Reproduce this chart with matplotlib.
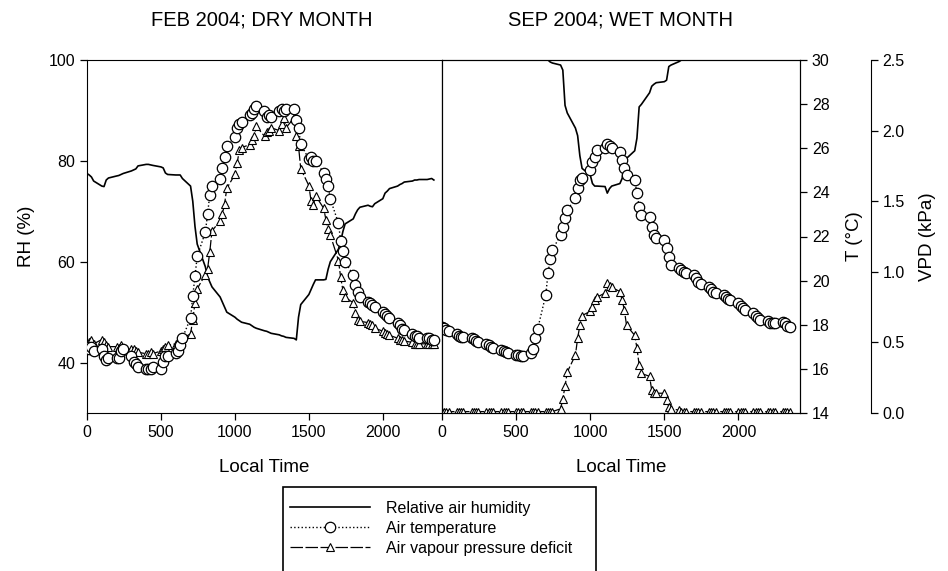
import matplotlib
matplotlib.use('Agg')
import matplotlib.pyplot as plt
from matplotlib.lines import Line2D
from matplotlib.patches import Rectangle

plt.rcParams['font.family'] = ['Liberation Sans', 'DejaVu Sans']

# local time as HHMM, every 15 min
hours = range(24)
minutes = [0, 15, 30, 45]
local_time = [h * 100 + m for h in hours for m in minutes]

# FEB 2004 (dry month)
feb_rh = [77.5, 77.2, 76.8, 76.0, 75.0, 74.9, 76.2, 76.6, 77.0, 77.1, 77.3, 77.5,
          78.0, 78.2, 78.4, 79.0, 79.3, 79.3, 79.2, 79.1, 78.8, 78.6, 77.6, 77.3,
          77.2, 77.2, 77.2, 76.5, 75.0, 72.0, 67.0, 63.5, 59.0, 57.0, 56.0, 55.0,
          53.0, 52.0, 51.0, 50.0, 49.0, 48.6, 48.3, 48.0, 47.6, 47.3, 47.0, 46.8,
          46.3, 46.2, 46.0, 45.8, 45.5, 45.3, 45.2, 45.0, 44.8, 44.5, 49.0, 51.5,
          53.5, 54.5, 55.5, 56.4, 56.4, 56.5, 58.5, 60.0, 62.5, 64.0, 66.0, 67.5,
          68.5, 69.5, 70.3, 70.8, 71.2, 71.0, 70.9, 71.5, 72.5, 73.6, 74.0, 74.5,
          75.0, 75.3, 75.5, 75.8, 76.0, 76.2, 76.2, 76.3, 76.3, 76.4, 76.5, 76.2]
feb_t = [17.0, 16.9, 17.0, 16.8, 16.9, 16.6, 16.4, 16.5, 16.5, 16.5, 16.8, 16.9,
         16.6, 16.3, 16.2, 16.1, 16.0, 16.0, 16.0, 16.1, 16.0, 16.3, 16.6, 16.6,
         16.7, 16.8, 17.1, 17.4, 18.3, 19.3, 20.2, 21.1, 22.2, 23.0, 23.9, 24.3,
         24.6, 25.1, 25.6, 26.1, 26.5, 26.9, 27.1, 27.2, 27.5, 27.6, 27.8, 27.9,
         27.7, 27.4, 27.5, 27.4, 27.7, 27.8, 27.7, 27.8, 27.8, 27.3, 26.9, 26.2,
         25.5, 25.6, 25.4, 25.4, 24.9, 24.6, 24.3, 23.7, 22.6, 21.8, 21.35, 20.85,
         20.25, 19.8, 19.5, 19.27, 19.05, 19.0, 18.9, 18.8, 18.6, 18.5, 18.4, 18.3,
         18.1, 18.0, 17.8, 17.76, 17.6, 17.5, 17.5, 17.4, 17.4, 17.4, 17.3, 17.3]
feb_vpd = [0.47, 0.50, 0.52, 0.49, 0.52, 0.50, 0.48, 0.47, 0.47, 0.46, 0.48, 0.46,
           0.45, 0.45, 0.44, 0.43, 0.42, 0.42, 0.43, 0.42, 0.44, 0.45, 0.47, 0.48,
           0.49, 0.50, 0.52, 0.53, 0.56, 0.66, 0.78, 0.88, 0.98, 1.02, 1.14, 1.29,
           1.36, 1.41, 1.48, 1.59, 1.69, 1.77, 1.86, 1.88, 1.90, 1.93, 1.96, 2.03,
           1.96, 1.99, 2.00, 2.02, 2.00, 2.05, 2.09, 2.02, 2.09, 1.96, 1.89, 1.73,
           1.61, 1.50, 1.47, 1.54, 1.45, 1.37, 1.30, 1.26, 1.08, 0.96, 0.87, 0.82,
           0.78, 0.71, 0.66, 0.65, 0.64, 0.63, 0.62, 0.60, 0.58, 0.57, 0.56, 0.55,
           0.53, 0.52, 0.52, 0.51, 0.50, 0.49, 0.49, 0.49, 0.49, 0.49, 0.49, 0.49]

# SEP 2004 (wet month)
sep_rh = [100] * 28 + [
          100, 100, 99.6, 99.4, 99.0, 98.0, 91.0, 89.5, 86.5, 85.0, 81.0, 78.5,
          77.2, 75.5, 75.0, 75.0, 74.9, 73.6, 74.5, 75.0, 75.5, 76.5, 79.0, 80.5,
          82.0, 84.5, 90.7, 91.2, 93.5, 94.8, 95.2, 95.5, 95.7, 96.0, 98.7, 99.0,
          99.7] + [100] * 31
sep_t = [17.9, 17.85, 17.75, 17.7, 17.6, 17.5, 17.45, 17.45, 17.4, 17.35, 17.25, 17.2,
         17.15, 17.1, 17.0, 16.93, 16.85, 16.8, 16.75, 16.7, 16.65, 16.62, 16.6, 16.6,
         16.7, 16.9, 17.4, 17.8, 19.35, 20.33, 20.97, 21.39, 22.07, 22.45, 22.83, 23.2,
         23.73, 24.19, 24.56, 24.64, 25.0, 25.39, 25.62, 25.9, 26.0, 26.2, 26.1, 26.0,
         25.85, 25.47, 25.09, 24.8, 24.56, 23.96, 23.35, 22.98, 22.9, 22.45, 22.07, 21.95,
         21.84, 21.47, 21.09, 20.71, 20.56, 20.5, 20.4, 20.35, 20.26, 20.1, 19.95, 19.85,
         19.73, 19.6, 19.5, 19.43, 19.35, 19.25, 19.15, 19.1, 18.97, 18.85, 18.75, 18.67,
         18.52, 18.4, 18.3, 18.22, 18.15, 18.1, 18.07, 18.1, 18.14, 18.1, 17.95, 17.9]
sep_vpd = [0.01] * 32 + [
           0.03, 0.10, 0.19, 0.29, 0.41, 0.53, 0.62, 0.69, 0.72, 0.75, 0.80, 0.82,
           0.85, 0.92, 0.90, 0.89, 0.86, 0.80, 0.73, 0.62, 0.55, 0.46, 0.34, 0.28,
           0.26, 0.16, 0.14, 0.14, 0.14, 0.09, 0.045, 0.03, 0.02] + [0.01] * 31

titles = ['FEB 2004; DRY MONTH', 'SEP 2004; WET MONTH']
legend_labels = ['Relative air humidity', 'Air temperature', 'Air vapour pressure deficit']

fig = plt.figure(figsize=(9.48, 5.71), dpi=100)
W, H = 948.0, 571.0
ax_left = fig.add_axes([87 / W, 158 / H, 355 / W, 353 / H])
ax_right = fig.add_axes([442 / W, 158 / H, 358 / W, 353 / H])

t_style = dict(ls=':', lw=1.0, color='k', marker='o', ms=7.5, mfc='white', mec='k', mew=0.9)
v_style = dict(ls=(0, (10, 2)), lw=0.9, color='k', marker='^', ms=6, mfc='white', mec='k', mew=0.8)
tick_kw = dict(direction='out', length=5, width=0.9, labelsize=11.5)

panels = [(ax_left, feb_rh, feb_t, feb_vpd, 2400),
          (ax_right, sep_rh, sep_t, sep_vpd, 2415)]
twins = []
for ax, rh, temp, vpd, xmax in panels:
    ax.plot(local_time, rh, color='k', lw=1.2)
    ax.set_ylim(30, 100)
    ax.set_xlim(0, xmax)
    ax.set_xticks([0, 500, 1000, 1500, 2000])
    ax.tick_params(**tick_kw)
    ax.set_xlabel('Local Time', fontsize=13.5, labelpad=14)
    axv = ax.twinx()
    axv.plot(local_time, vpd, **v_style)
    axv.set_ylim(0, 2.5)
    axt = ax.twinx()
    axt.plot(local_time, temp, **t_style)
    axt.set_ylim(14, 30)
    twins.append((axt, axv))

ax_left.set_yticks([40, 60, 80, 100])
ax_left.set_ylabel('RH (%)', fontsize=13.5, labelpad=10)
ax_right.set_yticks([])

for axt, axv in twins[:1]:
    axt.set_axis_off()
    axv.set_axis_off()

axt, axv = twins[1]
axt.set_yticks(range(14, 31, 2))
axt.tick_params(**tick_kw)
axt.set_ylabel('T (°C)', fontsize=13.5, labelpad=12)
axv.spines['right'].set_position(('axes', 1.198))
for s in ['left', 'top', 'bottom']:
    axv.spines[s].set_visible(False)
axv.set_yticks([0, 0.5, 1.0, 1.5, 2.0, 2.5])
axv.set_yticklabels(['%.1f' % v for v in [0, 0.5, 1.0, 1.5, 2.0, 2.5]])
axv.tick_params(**tick_kw)
axv.set_ylabel('VPD (kPa)', fontsize=13.5, labelpad=10)

fig.text(262 / W, 1 - 20 / H, titles[0], ha='center', va='center', fontsize=14.5)
fig.text(621 / W, 1 - 20 / H, titles[1], ha='center', va='center', fontsize=14.5)

# legend, box runs off the bottom edge
handles = [Line2D([], [], color='k', lw=1.2),
           Line2D([], [], **t_style),
           Line2D([], [], **v_style)]
fig.legend(handles, legend_labels, loc='upper left', bbox_to_anchor=(290 / W, 1 - 501 / H),
           frameon=False, fontsize=11.5, handlelength=5.0, handletextpad=1.0,
           labelspacing=0.3, borderpad=0, borderaxespad=0)
fig.patches.append(Rectangle((283 / W, -0.05), (596 - 283) / W, 0.05 + (571 - 487) / H,
                             transform=fig.transFigure, fill=False, ec='k', lw=1.2))

fig.savefig('out.png', dpi=100)
